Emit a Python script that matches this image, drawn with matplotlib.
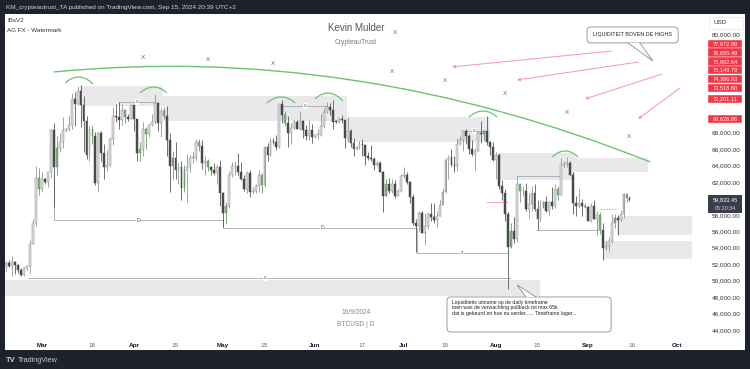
import matplotlib
matplotlib.use("Agg")
import matplotlib.pyplot as plt
import matplotlib.transforms as mtransforms
from matplotlib.patches import Rectangle, FancyBboxPatch, PathPatch, Polygon
from matplotlib.path import Path
import numpy as np
import pandas as pd

plt.rcParams["font.family"] = ["Liberation Sans", "DejaVu Sans"]

# ---- BTCUSD daily candles, Feb 18 - Sep 15 2024 (values in kUSD) ----
start_date = "2024-02-18"
end_date = "2024-09-15"

opens = [
    # Feb
    51.65, 52.13, 51.78, 52.28, 51.85, 51.32, 50.73, 51.57, 51.73, 54.49, 57.05, 62.50,
    # Mar
    61.18, 62.40, 62.03, 63.15, 68.30, 63.80, 66.10, 66.90, 68.30, 68.48, 68.96, 72.10, 71.45, 73.10, 71.40, 69.40,
    65.30, 68.40, 67.60, 61.90, 67.90, 65.50, 63.80, 64.10, 67.20, 70.00, 69.95, 69.50, 70.80, 69.90, 69.65,
    # Apr
    71.30, 69.70, 65.50, 65.95, 68.50, 67.85, 68.90, 69.35, 71.60, 69.15, 70.60, 70.00, 67.10, 63.90, 64.95,
    63.40, 63.80, 61.30, 63.50, 63.80, 64.95, 64.95, 66.80, 66.40, 64.30, 64.50, 63.80, 63.45, 63.10, 63.85,
    # May
    60.60, 58.25, 59.10, 62.90, 63.90, 64.00, 63.15, 62.30, 61.20, 63.10, 60.80, 60.90, 61.50, 62.90, 61.60, 66.30,
    65.25, 67.00, 66.90, 66.25, 71.45, 70.15, 69.20, 67.95, 68.55, 69.30, 68.50, 69.40, 68.35, 67.60, 68.35,
    # Jun
    67.50, 67.75, 67.75, 68.80, 70.55, 71.10, 70.80, 69.35, 69.30, 69.65, 69.50, 67.30, 68.25, 66.75, 66.00,
    66.20, 66.65, 66.50, 65.15, 64.95, 64.85, 64.10, 64.25, 63.20, 60.30, 61.80, 60.85, 61.70, 60.35, 60.95,
    # Jul
    62.75, 62.90, 62.05, 60.20, 57.05, 56.65, 58.25, 55.85, 56.70, 58.05, 57.70, 57.35, 57.90, 59.20, 60.80, 64.70,
    65.00, 64.10, 63.95, 66.65, 67.15, 68.15, 67.55, 65.95, 65.35, 65.80, 67.90, 67.85, 68.25, 66.80, 66.20,
    # Aug
    64.65, 65.30, 61.45, 60.65, 58.10, 54.05, 56.00, 55.10, 61.70, 60.85, 60.90, 58.70, 59.35, 60.60, 58.75, 57.55,
    58.90, 59.50, 58.45, 59.50, 59.05, 61.20, 60.40, 64.10, 64.20, 64.30, 62.90, 59.45, 59.05, 59.40, 59.10,
    # Sep
    58.95, 57.30, 59.10, 57.50, 57.95, 56.15, 53.95, 54.15, 54.85, 57.05, 57.65, 57.35, 58.15, 60.55, 60.00,
]
highs = [
    52.35, 52.50, 52.98, 52.38, 52.00, 51.55, 51.68, 51.95, 54.90, 57.55, 64.00, 63.65,
    63.15, 62.45, 63.20, 68.50, 69.20, 67.65, 67.90, 69.90, 68.60, 70.00, 72.80, 72.90, 73.65, 73.75, 72.40, 70.00,
    68.80, 68.90, 68.10, 68.10, 68.20, 66.60, 65.90, 67.50, 71.10, 71.50, 71.70, 71.50, 70.90, 70.30, 71.35,
    71.30, 69.70, 66.90, 69.30, 68.70, 69.00, 70.30, 72.70, 71.70, 71.10, 70.95, 71.20, 67.90, 65.80, 66.80,
    64.30, 64.50, 64.10, 65.40, 65.30, 65.70, 67.20, 67.20, 67.05, 65.30, 64.80, 63.90, 64.30, 64.20, 64.70,
    60.80, 59.60, 63.30, 64.40, 64.60, 65.50, 64.40, 62.90, 63.30, 63.40, 61.40, 61.80, 63.40, 63.10, 66.40, 66.70,
    67.40, 67.40, 67.70, 71.50, 71.95, 70.65, 70.05, 69.20, 69.55, 69.50, 70.60, 69.55, 68.90, 69.50, 69.00,
    67.85, 68.40, 70.25, 71.05, 71.75, 71.65, 71.95, 69.55, 69.85, 70.15, 69.55, 69.95, 68.40, 67.30, 66.40,
    66.95, 67.20, 66.50, 65.70, 66.45, 65.05, 64.50, 64.50, 63.35, 62.30, 62.45, 62.30, 62.20, 61.20, 63.00,
    63.80, 63.20, 62.10, 60.50, 57.50, 58.45, 58.45, 58.25, 58.30, 59.45, 59.40, 58.50, 59.80, 61.30, 64.90, 65.30,
    66.05, 65.10, 67.40, 67.60, 68.35, 68.45, 67.80, 67.10, 66.10, 68.20, 69.40, 68.30, 70.00, 66.95, 66.80,
    65.65, 65.55, 62.20, 61.10, 58.30, 57.00, 57.70, 62.70, 61.75, 61.45, 61.85, 60.70, 61.55, 61.75, 59.85, 59.80,
    59.65, 60.30, 59.65, 61.40, 61.80, 61.45, 64.90, 64.55, 65.00, 64.50, 63.25, 60.25, 61.20, 59.90, 59.45,
    59.05, 59.40, 59.80, 58.50, 58.30, 56.95, 54.85, 55.30, 58.10, 58.05, 57.95, 58.60, 60.65, 60.65, 60.35,
]
lows = [
    51.20, 51.60, 50.60, 50.80, 50.95, 50.55, 50.60, 51.30, 50.90, 54.45, 56.70, 60.40,
    60.80, 61.70, 61.40, 62.45, 59.00, 62.80, 65.60, 66.15, 68.10, 68.20, 68.40, 68.80, 71.35, 68.70, 65.60, 64.80,
    64.60, 66.60, 61.60, 60.80, 64.60, 62.30, 63.30, 63.80, 66.50, 69.30, 68.50, 68.90, 69.20, 69.40, 69.60,
    68.20, 64.50, 64.50, 65.10, 66.00, 67.50, 68.80, 69.10, 68.20, 67.50, 69.60, 65.10, 60.80, 62.30, 62.30,
    61.80, 59.80, 60.80, 59.60, 63.20, 64.30, 64.50, 65.80, 63.60, 62.80, 63.30, 62.80, 62.80, 61.80, 59.10,
    56.55, 56.90, 58.80, 62.60, 62.90, 62.80, 62.20, 60.90, 60.70, 60.20, 60.50, 60.65, 60.80, 60.70, 61.35, 64.60,
    65.10, 66.60, 65.90, 66.10, 69.20, 68.85, 66.30, 66.65, 68.50, 68.40, 68.30, 67.30, 67.15, 67.15, 66.70,
    67.30, 67.25, 67.60, 68.60, 70.40, 70.20, 68.50, 69.20, 69.15, 69.20, 66.10, 66.90, 66.30, 65.10, 65.90,
    66.05, 65.15, 64.10, 64.70, 64.55, 63.40, 63.95, 63.20, 58.40, 60.30, 60.65, 60.60, 60.05, 60.30, 60.80,
    62.50, 61.80, 59.45, 56.80, 53.50, 56.05, 55.75, 54.30, 56.30, 57.20, 57.00, 56.55, 57.80, 59.20, 60.65, 62.40,
    63.90, 63.20, 63.30, 66.45, 65.80, 66.60, 65.45, 65.10, 63.45, 65.75, 66.70, 67.05, 66.55, 65.30, 64.55,
    62.30, 61.15, 59.85, 57.20, 49.00, 54.00, 54.55, 54.70, 59.60, 60.30, 58.50, 57.65, 58.45, 58.45, 56.15, 57.10,
    58.80, 58.40, 57.85, 58.65, 58.85, 59.80, 60.40, 63.65, 63.85, 62.85, 58.10, 57.90, 58.80, 57.80, 58.80,
    57.25, 57.15, 57.45, 55.60, 55.70, 52.55, 53.75, 53.65, 54.60, 56.40, 55.55, 57.30, 57.65, 59.60, 59.70,
]
closes = [
    52.13, 51.78, 52.28, 51.85, 51.32, 50.73, 51.57, 51.73, 54.49, 57.05, 62.50, 61.18,
    62.40, 62.03, 63.15, 68.30, 63.80, 66.10, 66.90, 68.30, 68.48, 68.96, 72.10, 71.45, 73.10, 71.40, 69.40, 65.30,
    68.40, 67.60, 61.90, 67.90, 65.50, 63.80, 64.10, 67.20, 70.00, 69.95, 69.50, 70.80, 69.90, 69.65, 71.30,
    69.70, 65.50, 65.95, 68.50, 67.85, 68.90, 69.35, 71.60, 69.15, 70.60, 70.00, 67.10, 63.90, 64.95, 63.40,
    63.80, 61.30, 63.50, 63.80, 64.95, 64.95, 66.80, 66.40, 64.30, 64.50, 63.80, 63.45, 63.10, 63.85, 60.60,
    58.25, 59.10, 62.90, 63.90, 64.00, 63.15, 62.30, 61.20, 63.10, 60.80, 60.90, 61.50, 62.90, 61.60, 66.30, 65.25,
    67.00, 66.90, 66.25, 71.45, 70.15, 69.20, 67.95, 68.55, 69.30, 68.50, 69.40, 68.35, 67.60, 68.35, 67.50,
    67.75, 67.75, 68.80, 70.55, 71.10, 70.80, 69.35, 69.30, 69.65, 69.50, 67.30, 68.25, 66.75, 66.00, 66.20,
    66.65, 66.50, 65.15, 64.95, 64.85, 64.10, 64.25, 63.20, 60.30, 61.80, 60.85, 61.70, 60.35, 60.95, 62.75,
    62.90, 62.05, 60.20, 57.05, 56.65, 58.25, 55.85, 56.70, 58.05, 57.70, 57.35, 57.90, 59.20, 60.80, 64.70, 65.00,
    64.10, 63.95, 66.65, 67.15, 68.15, 67.55, 65.95, 65.35, 65.80, 67.90, 67.85, 68.25, 66.80, 66.20, 64.65,
    65.30, 61.45, 60.65, 58.10, 54.05, 56.00, 55.10, 61.70, 60.85, 60.90, 58.70, 59.35, 60.60, 58.75, 57.55, 58.90,
    59.50, 58.45, 59.50, 59.05, 61.20, 60.40, 64.10, 64.20, 64.30, 62.90, 59.45, 59.05, 59.40, 59.10, 58.95,
    57.30, 59.10, 57.50, 57.95, 56.15, 53.95, 54.15, 54.85, 57.05, 57.65, 57.35, 58.15, 60.55, 60.00, 59.83,
]

# inside bars highlighted green by the IBsV2 indicator
inside_bar_dates = [
    "2024-02-29", "2024-03-06", "2024-03-18", "2024-03-29", "2024-04-03", "2024-04-05",
    "2024-04-11", "2024-04-14", "2024-04-18", "2024-04-23", "2024-04-26", "2024-05-02",
    "2024-05-14", "2024-05-22", "2024-06-25", "2024-07-28", "2024-08-06", "2024-08-09",
    "2024-08-17", "2024-08-22", "2024-08-31", "2024-09-05", "2024-09-10", "2024-09-14",
]

# time axis
tick_dates = ["2024-03-01", "2024-03-18", "2024-04-01", "2024-04-15", "2024-05-01", "2024-05-15",
              "2024-06-01", "2024-06-17", "2024-07-01", "2024-07-15", "2024-08-01", "2024-08-15",
              "2024-09-01", "2024-09-16", "2024-10-01"]
tick_labels = ["Mar", "18", "Apr", "15", "May", "15", "Jun", "17", "Jul", "15", "Aug", "15", "Sep", "16", "Oct"]
price_ticks = list(range(44, 81, 2))
hidden_price_ticks = [60, 70, 72, 74, 76, 78]   # covered by the price tags

# ---- drawings (x = days since Mar 1, y = kUSD) ----
zones = [  # (day0, day1, top, bottom)
    (12.8, 40.8, 73.67, 71.24),
    (40.8, 102.8, 72.46, 69.42),
    (102.8, 151.0, 69.90, 66.86),
    (154.4, 179.6, 65.52, 62.24),
    (179.6, 204.2, 64.92, 63.21),
    (193.8, 219.1, 57.86, 55.55),
    (189.1, 219.1, 54.82, 52.63),
    (-12.5, 167.8, 50.07, 48.13),
]
levels = [  # (day0, day1, price, label, label_day)
    (4.0, 61.0, 57.37, "D", 32.4),
    (61.0, 126.4, 56.40, "D", 94.4),
    (126.4, 157.1, 53.36, "x", 141.6),
    (-4.7, 157.7, 50.32, "x", 75.2),
    (26.0, 38.1, 71.73, "x", 32.0),
    (80.9, 96.1, 71.24, "x", 88.6),
    (143.2, 149.3, 68.20, "x", 145.6),
    (160.1, 174.6, 62.73, "", None),
    (166.8, 187.4, 56.16, "", None),
]
level_links = [(4.0, 62.85, 57.37), (61.0, 57.37, 56.40), (126.4, 56.40, 53.36)]
red_levels = [(150.0, 156.7, 59.56), (188.1, 193.8, 58.71)]

big_arc = [(4.0, 75.38), (104.5, 78.90), (205.0, 64.43)]
top_arcs = [
    [(7.8, 74.04), (12.5, 75.56), (17.2, 73.92)],
    [(33.0, 72.82), (37.6, 74.28), (42.1, 72.82)],
    [(75.8, 71.61), (80.6, 73.07), (85.3, 71.61)],
    [(92.0, 72.09), (96.7, 73.67), (101.4, 71.85)],
    [(143.9, 69.90), (148.6, 71.36), (153.4, 69.90)],
    [(171.9, 65.04), (176.3, 66.50), (180.7, 65.04)],
]
x_marks = [(34.0, 77.08), (55.9, 76.84), (77.9, 76.35), (119.0, 80.12), (118.0, 75.38),
           (135.8, 74.28), (156.0, 72.70), (177.0, 70.39), (197.8, 67.47)]
red_arrows = [((192.1, 77.93), (138.2, 75.99)), ((200.9, 76.59), (160.1, 74.40)),
              ((209.0, 75.13), (183.0, 72.09)), ((215.0, 73.43), (200.9, 69.66))]

tag_values = [77972.99, 76655.49, 75902.64, 75149.79, 74396.93, 73518.60, 72201.11, 69628.86]
tag_levels = [78.78, 77.72, 76.66, 75.60, 74.52, 73.44, 72.09, 69.66]
last_price = 59833.45
countdown = "05:20:34"

note_top = "LIQUIDITEIT BOVEN DE HIGHS"
note_bottom = ("Liquiditeits uitname op de daily timeframe\n"
               "toen was de verwachting pullback tot max 65k\n"
               "dat is gebeurd en hoe nu verder...... Timeframe lager...")

# ---- figure ----
W, H = 750, 369
def fx(px):
    return px / W
def fy(py):
    return 1 - py / H

DARK = "#1e222d"
fig = plt.figure(figsize=(7.5, 3.69), dpi=100, facecolor=DARK)
fig.add_artist(Rectangle((fx(5), fy(350)), fx(740), 336 / H, transform=fig.transFigure,
                         facecolor="white", edgecolor="none", zorder=0))
ax = fig.add_axes([fx(5), fy(336), fx(700), 322 / H])
ax.set_facecolor("white")
for s in ax.spines.values():
    s.set_visible(False)
ax.set_xlim(-12.47, 223.45)
ax.set_ylim(43.26, 82.43)

t0 = pd.Timestamp("2024-03-01")
dates = pd.date_range(start_date, end_date, freq="D")
days = np.asarray((dates - t0).days, dtype=float)
o, h, l, c = map(np.asarray, (opens, highs, lows, closes))
green = np.isin(dates, pd.to_datetime(inside_bar_dates))
up = c >= o

face = np.where(green, "#7fae7f", np.where(up, "#dedede", "#4a4a4a"))
edge = np.where(green, "#5f8f5f", np.where(up, "#8c8c8c", "#4a4a4a"))

# zones behind candles
for d0, d1, top, bot in zones:
    ax.add_patch(Rectangle((d0, bot), d1 - d0, top - bot, facecolor="#e9e9ec",
                           edgecolor="none", zorder=0.5))

ax.vlines(days, l, h, colors=edge, linewidth=0.55, zorder=2)
body = np.maximum(np.abs(c - o), 0.08)
ax.bar(days, body, bottom=np.minimum(o, c), width=0.62, color=face, edgecolor=edge,
       linewidth=0.35, zorder=3)

# horizontal levels
for d0, d1, p, lab, ld in levels:
    ax.plot([d0, d1], [p, p], color="#a3a6ad", lw=0.6, zorder=1.5)
    if lab:
        ax.text(ld, p, lab, fontsize=3.6, color="#555", ha="center", va="center", zorder=4,
                bbox=dict(facecolor="white", edgecolor="none", pad=0.4))
for d, p0, p1 in level_links:
    ax.plot([d, d], [p0, p1], color="#a3a6ad", lw=0.6, zorder=1.5)
for i, (d0, d1, p) in enumerate(red_levels):
    ax.plot([d0, d1], [p, p], color="#f4a3a3", lw=0.7, zorder=1.6,
            linestyle="-" if i == 0 else (0, (2, 1)))

# arcs
def qcurve(pts, **kw):
    path = Path(pts, [Path.MOVETO, Path.CURVE3, Path.CURVE3])
    ax.add_patch(PathPatch(path, fill=False, **kw))

qcurve(big_arc, edgecolor="#6cc46c", lw=1.0, zorder=4)
for arc in top_arcs:
    qcurve(arc, edgecolor="#6cc46c", lw=0.9, zorder=4)

for d, p in x_marks:
    ax.text(d, p, "X", fontsize=4.6, color="#666", ha="center", va="center", zorder=4)

for tail, head in red_arrows:
    ax.annotate("", xy=head, xytext=tail,
                arrowprops=dict(arrowstyle="->", color="#f49a9a", lw=0.7,
                                shrinkA=0, shrinkB=0, mutation_scale=5), zorder=4)

# callouts
ASPECT = (700 / 235.92) / (322 / 39.17)

def callout(x0, x1, top, bot, base0, base1, tip, base_y):
    ax.add_patch(FancyBboxPatch((x0, bot), x1 - x0, top - bot,
                                boxstyle="round,pad=0,rounding_size=1.3", mutation_aspect=ASPECT,
                                facecolor="white", edgecolor="#8a8d96", lw=0.6, zorder=5))
    ax.add_patch(Polygon([(base0, base_y), tip, (base1, base_y)], closed=True,
                         facecolor="white", edgecolor="none", zorder=5.5))
    ax.plot([base0, tip[0], base1], [base_y, tip[1], base_y], color="#8a8d96", lw=0.6,
            zorder=5.6, solid_joinstyle="miter")

callout(183.7, 214.4, 80.85, 78.91, 197.5, 201.5, (205.9, 76.72), 78.91)
ax.text(199.0, 79.88, note_top, fontsize=3.9, color="#222", ha="center", va="center", zorder=6)
callout(136.5, 191.8, 48.01, 43.75, 163.1, 166.5, (160.1, 49.47), 48.01)
ax.text(138.2, 47.62, note_bottom, fontsize=3.7, color="#222", ha="left", va="top",
        linespacing=1.05, zorder=6)

# axes ticks
ax.yaxis.tick_right()
ax.set_yticks(price_ticks)
ax.set_yticklabels(["" if v in hidden_price_ticks else f"{v * 1000:,.2f}" for v in price_ticks])
ax.tick_params(axis="y", length=0, pad=5, labelsize=4.6, labelcolor="#333")
ax.set_xticks([(pd.Timestamp(d) - t0).days for d in tick_dates])
ax.set_xticklabels(tick_labels)
ax.tick_params(axis="x", length=0, pad=5, labelsize=4.6)
for lab in ax.get_xticklabels():
    if lab.get_text().isalpha():
        lab.set_fontweight("bold")
        lab.set_color("#131722")
    else:
        lab.set_color("#666")

# price tags
bt = mtransforms.blended_transform_factory(ax.transAxes, ax.transData)
tag_x0, tag_w = 1.0043, 0.0486
tag_h = 1.04
for v, lv in zip(tag_values, tag_levels):
    ax.add_patch(Rectangle((tag_x0, lv - tag_h / 2), tag_w, tag_h, transform=bt,
                           facecolor="#f23645", edgecolor="white", lw=0.3, clip_on=False, zorder=10))
    ax.text(tag_x0 + tag_w / 2, lv, f"{v:,.2f}", transform=bt, fontsize=4.1, color="white",
            ha="center", va="center", clip_on=False, zorder=11)
lp = last_price / 1000
ax.add_patch(Rectangle((tag_x0, 58.20), tag_w, 2.24, transform=bt, facecolor="#3a3e4a",
                       edgecolor="none", clip_on=False, zorder=10))
ax.text(tag_x0 + tag_w / 2, 59.88, f"{last_price:,.2f}", transform=bt, fontsize=4.1, color="white",
        ha="center", va="center", clip_on=False, zorder=11)
ax.text(tag_x0 + tag_w / 2, 58.74, countdown, transform=bt, fontsize=3.9, color="#d1d4dc",
        ha="center", va="center", clip_on=False, zorder=11)

# frame texts
fig.text(fx(6), fy(7), "KM_crypteautrust_TA published on TradingView.com, Sep 15, 2024 20:39 UTC+2",
         color="#d1d4dc", fontsize=4.6, va="center")
fig.text(fx(7), fy(21), "IBsV2", color="#333", fontsize=4.5, va="center")
fig.text(fx(7), fy(31), "AG FX - Watermark", color="#333", fontsize=4.5, va="center")
fig.text(fx(356), fy(28), "Kevin Mulder", color="#555", fontsize=7.0, ha="center", va="center")
fig.text(fx(356), fy(43), "CrypteauTrust", color="#777", fontsize=4.8, ha="center", va="center")
fig.text(fx(356), fy(312), "16/9/2024", color="#888", fontsize=4.8, ha="center", va="center")
fig.text(fx(356), fy(324), "BTCUSD | D", color="#888", fontsize=4.8, ha="center", va="center")
fig.add_artist(Rectangle((fx(709), fy(29)), 34 / W, 12 / H, transform=fig.transFigure,
                         facecolor="white", edgecolor="#e0e3eb", lw=0.5))
fig.text(fx(713), fy(23), "USD", color="#333", fontsize=4.5, va="center")
fig.text(fx(6), fy(360), "TV", color="#c8cad0", fontsize=5.5, fontweight="bold", va="center")
fig.text(fx(18), fy(360), "TradingView", color="#c8cad0", fontsize=5.2, va="center")

fig.savefig("out.png", dpi=100, facecolor=DARK)
